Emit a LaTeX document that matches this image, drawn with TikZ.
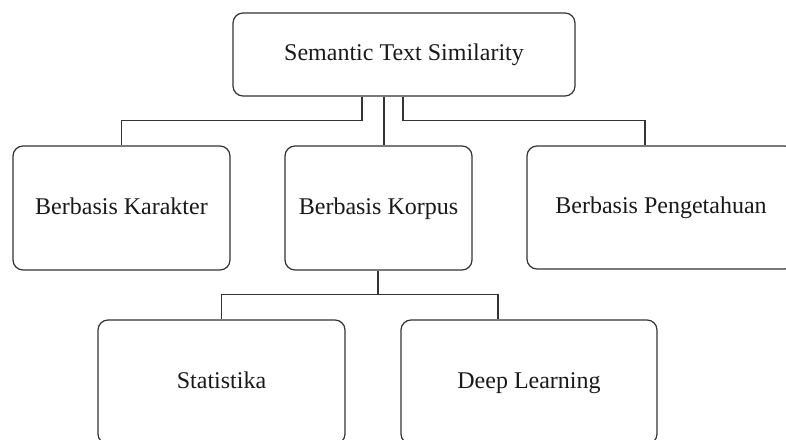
\documentclass[tikz,border=0pt]{standalone}
\usepackage{fontspec}
\setmainfont{Liberation Serif}
\begin{document}
\begin{tikzpicture}[x=1pt,y=-1pt,
  card/.style={draw=black!80, line width=1.2pt, rounded corners=10pt,
    inner sep=0pt, text=black!90, text height=15pt, text depth=3pt,
    font=\fontsize{24}{28}\selectfont},
  link/.style={draw=black!80, line width=1.2pt}]
\useasboundingbox (0,0) rectangle (786,439);
\clip (0,0) rectangle (786,439);

% root of the taxonomy
\node[card, minimum width=342pt, minimum height=83pt] (sts) at (404,54.5) {Semantic Text Similarity};

% first level
\node[card, minimum width=217pt, minimum height=124pt] (kar) at (121.5,208) {Berbasis Karakter};
\node[card, minimum width=187pt, minimum height=124pt] (kor) at (378.5,208) {Berbasis Korpus};
\node[card, minimum width=268pt, minimum height=123pt] (pen) at (661,207.5) {Berbasis Pengetahuan};

% second level, under the corpus branch
\node[card, minimum width=247pt, minimum height=124pt] (stat) at (221.5,382) {Statistika};
\node[card, minimum width=256pt, minimum height=124pt] (deep) at (529,382) {Deep Learning};

% elbow connectors
\draw[link] ([xshift=-42pt]sts.south) -- ++(0,24) -| (kar.north);
\draw[link] ([xshift=-20pt]sts.south) -- ([xshift=-20pt]sts.south |- kor.north);
\draw[link] ([xshift=-1pt]sts.south) -- ++(0,24) -| ([xshift=-16pt]pen.north);
\draw[link] ([xshift=-0.5pt]kor.south) -- ++(0,24) coordinate (fork) -| (stat.north);
\draw[link] (fork) -| ([xshift=-31pt]deep.north);
\end{tikzpicture}
\end{document}
